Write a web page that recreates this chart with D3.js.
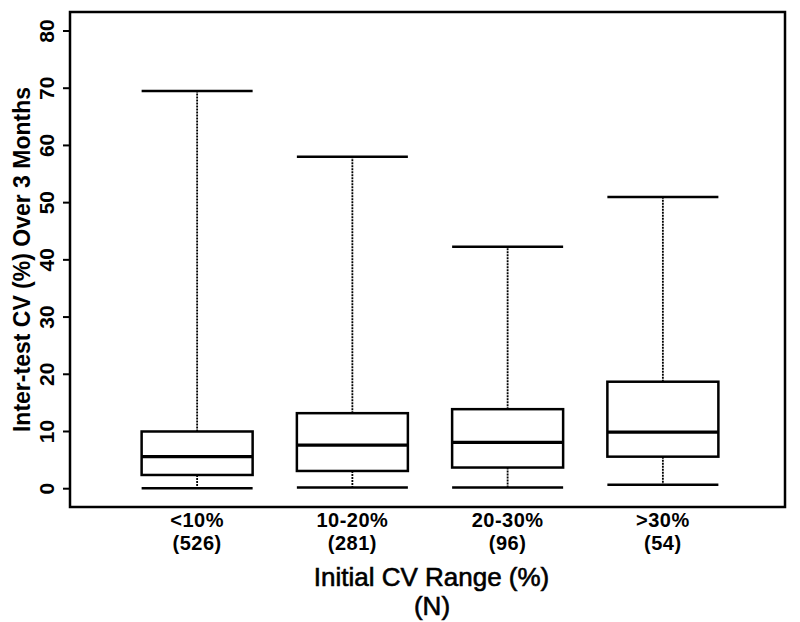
<!DOCTYPE html>
<html>
<head>
<meta charset="utf-8">
<script src="https://cdn.jsdelivr.net/npm/d3@7/dist/d3.min.js"></script>
<style>
  html, body { margin: 0; padding: 0; background: #fff; }
  svg { display: block; }
  text { font-family: "Liberation Sans", Arial, Helvetica, sans-serif; fill: #000; }
</style>
</head>
<body>
<svg id="chart" width="800" height="622"></svg>
<script>
// ---- data ----
const categories = ["<10%", "10-20%", "20-30%", ">30%"];
const counts = ["(526)", "(281)", "(96)", "(54)"];
const whiskerLow = [0.1, 0.2, 0.2, 0.7];
const q1 = [2.4, 3.1, 3.7, 5.6];
const median = [5.6, 7.6, 8.1, 9.9];
const q3 = [10.0, 13.2, 13.9, 18.7];
const whiskerHigh = [69.5, 58.0, 42.3, 51.0];
const yTicks = [0, 10, 20, 30, 40, 50, 60, 70, 80];
const xTitle = "Initial CV Range (%)";
const xTitle2 = "(N)";
const yTitle = "Inter-test CV (%) Over 3 Months";

const data = categories.map((c, i) => ({
  cat: c, n: counts[i], lo: whiskerLow[i], q1: q1[i], med: median[i], q3: q3[i], hi: whiskerHigh[i]
}));

const svg = d3.select("#chart");
const frame = { left: 70, right: 785, top: 12, bottom: 507 };

const x = d3.scaleBand().domain(categories).range([119.5, 740.5]);
const y = d3.scaleLinear().domain([0, 80]).range([488.7, 31]);
const boxW = x.bandwidth() * 0.715;

// frame
svg.append("rect")
  .attr("x", frame.left).attr("y", frame.top)
  .attr("width", frame.right - frame.left).attr("height", frame.bottom - frame.top)
  .attr("fill", "none").attr("stroke", "#000").attr("stroke-width", 2.5);

// y axis ticks
const yAxis = svg.append("g");
yAxis.selectAll("line").data(yTicks).join("line")
  .attr("x1", 63).attr("x2", frame.left)
  .attr("y1", d => y(d)).attr("y2", d => y(d))
  .attr("stroke", "#000").attr("stroke-width", 2);
yAxis.selectAll("text").data(yTicks).join("text")
  .attr("transform", d => `translate(54,${y(d)}) rotate(-90)`)
  .attr("text-anchor", "middle")
  .attr("font-size", 21).attr("font-weight", "bold")
  .text(d => d);

// boxes
const g = svg.append("g");
const box = g.selectAll("g.box").data(data).join("g").attr("class", "box")
  .attr("transform", d => `translate(${x(d.cat) + x.bandwidth() / 2},0)`);

// whiskers (dotted)
box.append("line")
  .attr("x1", 0).attr("x2", 0)
  .attr("y1", d => y(d.q3)).attr("y2", d => y(d.hi))
  .attr("stroke", "#000").attr("stroke-width", 1.8).attr("stroke-dasharray", "2,1");
box.append("line")
  .attr("x1", 0).attr("x2", 0)
  .attr("y1", d => y(d.q1)).attr("y2", d => y(d.lo))
  .attr("stroke", "#000").attr("stroke-width", 1.8).attr("stroke-dasharray", "2,1");
// caps
box.append("line")
  .attr("x1", -boxW / 2).attr("x2", boxW / 2)
  .attr("y1", d => y(d.hi)).attr("y2", d => y(d.hi))
  .attr("stroke", "#000").attr("stroke-width", 2.5);
box.append("line")
  .attr("x1", -boxW / 2).attr("x2", boxW / 2)
  .attr("y1", d => y(d.lo)).attr("y2", d => y(d.lo))
  .attr("stroke", "#000").attr("stroke-width", 2.5);
// box
box.append("rect")
  .attr("x", -boxW / 2).attr("width", boxW)
  .attr("y", d => y(d.q3)).attr("height", d => y(d.q1) - y(d.q3))
  .attr("fill", "none").attr("stroke", "#000").attr("stroke-width", 2.5);
// median
box.append("line")
  .attr("x1", -boxW / 2).attr("x2", boxW / 2)
  .attr("y1", d => y(d.med)).attr("y2", d => y(d.med))
  .attr("stroke", "#000").attr("stroke-width", 3.2);

// x labels
const xl = svg.append("g");
xl.selectAll("text.cat").data(data).join("text").attr("class", "cat")
  .attr("x", d => x(d.cat) + x.bandwidth() / 2).attr("y", 527)
  .attr("text-anchor", "middle").attr("font-size", 20).attr("font-weight", "bold")
  .attr("letter-spacing", 0.5)
  .text(d => d.cat);
xl.selectAll("text.n").data(data).join("text").attr("class", "n")
  .attr("x", d => x(d.cat) + x.bandwidth() / 2).attr("y", 550)
  .attr("text-anchor", "middle").attr("font-size", 20).attr("font-weight", "bold")
  .attr("letter-spacing", 0.5)
  .text(d => d.n);

// titles
svg.append("text")
  .attr("x", 431.5).attr("y", 586)
  .attr("text-anchor", "middle").attr("font-size", 26)
  .attr("stroke", "#000").attr("stroke-width", 0.6)
  .text(xTitle);
svg.append("text")
  .attr("x", 432).attr("y", 615)
  .attr("text-anchor", "middle").attr("font-size", 26)
  .attr("stroke", "#000").attr("stroke-width", 0.6)
  .text(xTitle2);
svg.append("text")
  .attr("transform", "translate(30,259.5) rotate(-90)")
  .attr("text-anchor", "middle").attr("font-size", 23).attr("font-weight", "bold")
  .text(yTitle);
</script>
</body>
</html>
